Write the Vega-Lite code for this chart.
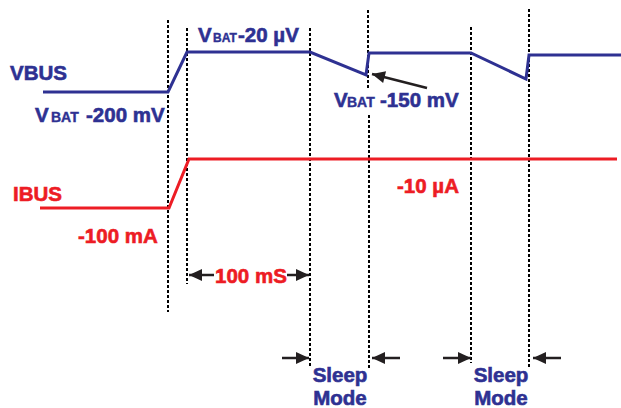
{
  "$schema": "https://vega.github.io/schema/vega-lite/v6.json",
  "width": 621,
  "height": 408,
  "autosize": {"type": "none"},
  "padding": 0,
  "background": "white",
  "config": {"view": {"stroke": null}},
  "datasets": {
    "signals": [
      {"signal": "VBUS", "i": 1, "t": 43, "v": 92},
      {"signal": "VBUS", "i": 2, "t": 168, "v": 92},
      {"signal": "VBUS", "i": 3, "t": 187, "v": 52},
      {"signal": "VBUS", "i": 4, "t": 310, "v": 52},
      {"signal": "VBUS", "i": 5, "t": 366, "v": 75},
      {"signal": "VBUS", "i": 6, "t": 369, "v": 53},
      {"signal": "VBUS", "i": 7, "t": 471, "v": 53},
      {"signal": "VBUS", "i": 8, "t": 526, "v": 79},
      {"signal": "VBUS", "i": 9, "t": 529, "v": 55},
      {"signal": "VBUS", "i": 10, "t": 621, "v": 55},
      {"signal": "IBUS", "i": 1, "t": 40, "v": 208},
      {"signal": "IBUS", "i": 2, "t": 169, "v": 208},
      {"signal": "IBUS", "i": 3, "t": 189, "v": 159},
      {"signal": "IBUS", "i": 4, "t": 617, "v": 159}
    ],
    "markers": [
      {"t": 168, "top": 20, "bottom": 312},
      {"t": 187, "top": 28, "bottom": 284},
      {"t": 310, "top": 28, "bottom": 366},
      {"t": 368, "top": 10, "bottom": 88},
      {"t": 369, "top": 115, "bottom": 368},
      {"t": 471, "top": 27, "bottom": 363},
      {"t": 529, "top": 9, "bottom": 368}
    ],
    "labels": [
      {"signal": "VBUS", "label": "VBUS", "t": 10, "v": 80},
      {"signal": "VBUS", "label": "V", "t": 35, "v": 122},
      {"signal": "VBUS", "label": "-200 mV", "t": 86, "v": 122},
      {"signal": "VBUS", "label": "V", "t": 198, "v": 42},
      {"signal": "VBUS", "label": "-20 µV", "t": 238, "v": 42},
      {"signal": "VBUS", "label": "V", "t": 334, "v": 107},
      {"signal": "VBUS", "label": "-150 mV", "t": 380, "v": 107},
      {"signal": "IBUS", "label": "IBUS", "t": 13, "v": 201},
      {"signal": "IBUS", "label": "-100 mA", "t": 78, "v": 243},
      {"signal": "IBUS", "label": "-10 µA", "t": 397, "v": 193},
      {"signal": "IBUS", "label": "100 mS", "t": 215, "v": 283}
    ],
    "subs": [
      {"signal": "VBUS", "label": "BAT", "face": "regular", "t": 51, "v": 122},
      {"signal": "VBUS", "label": "BAT", "face": "narrow", "t": 213, "v": 42},
      {"signal": "VBUS", "label": "BAT", "face": "regular", "t": 347, "v": 107}
    ],
    "centered": [
      {"signal": "VBUS", "label": "Sleep", "t": 340, "v": 382},
      {"signal": "VBUS", "label": "Mode", "t": 340, "v": 405},
      {"signal": "VBUS", "label": "Sleep", "t": 501, "v": 382},
      {"signal": "VBUS", "label": "Mode", "t": 501, "v": 405}
    ],
    "shafts": [
      {"t": 189, "v": 275, "t2": 214, "v2": 275},
      {"t": 287, "v": 275, "t2": 309, "v2": 275},
      {"t": 282, "v": 358, "t2": 309, "v2": 358},
      {"t": 372, "v": 358, "t2": 400, "v2": 358},
      {"t": 443, "v": 358, "t2": 471, "v2": 358},
      {"t": 533, "v": 358, "t2": 561, "v2": 358},
      {"t": 427, "v": 88, "t2": 372, "v2": 74}
    ],
    "heads": [
      {"t": 189, "v": 275, "dir": "left"},
      {"t": 309, "v": 275, "dir": "right"},
      {"t": 309, "v": 358, "dir": "right"},
      {"t": 372, "v": 358, "dir": "left"},
      {"t": 471, "v": 358, "dir": "right"},
      {"t": 533, "v": 358, "dir": "left"},
      {"t": 372, "v": 74, "dir": "up-left"}
    ]
  },
  "layer": [
    {
      "data": {"name": "markers"},
      "mark": {"type": "rule", "color": "black", "strokeWidth": 2, "strokeDash": [3, 2]},
      "encoding": {
        "x": {"field": "t", "type": "quantitative", "scale": {"domain": [0, 621], "nice": false, "zero": false}, "axis": null},
        "y": {"field": "top", "type": "quantitative", "scale": {"domain": [0, 408], "nice": false, "zero": false, "reverse": true}, "axis": null},
        "y2": {"field": "bottom"}
      }
    },
    {
      "data": {"name": "signals"},
      "mark": {"type": "line", "strokeWidth": 3},
      "encoding": {
        "x": {"field": "t", "type": "quantitative", "scale": {"domain": [0, 621], "nice": false, "zero": false}, "axis": null},
        "y": {"field": "v", "type": "quantitative", "scale": {"domain": [0, 408], "nice": false, "zero": false, "reverse": true}, "axis": null},
        "color": {"field": "signal", "type": "nominal", "scale": {"domain": ["VBUS", "IBUS"], "range": ["#2e3192", "#ed1c24"]}, "legend": null},
        "order": {"field": "i", "type": "quantitative"}
      }
    },
    {
      "data": {"name": "shafts"},
      "mark": {"type": "rule", "color": "#231f20", "strokeWidth": 2.5},
      "encoding": {
        "x": {"field": "t", "type": "quantitative", "scale": {"domain": [0, 621], "nice": false, "zero": false}, "axis": null},
        "y": {"field": "v", "type": "quantitative", "scale": {"domain": [0, 408], "nice": false, "zero": false, "reverse": true}, "axis": null},
        "x2": {"field": "t2"},
        "y2": {"field": "v2"}
      }
    },
    {
      "data": {"name": "heads"},
      "mark": {"type": "point", "filled": true, "shape": "M0,0L-2,-0.92L-2,0.92Z", "size": 169, "color": "#231f20", "opacity": 1, "strokeWidth": 0},
      "encoding": {
        "x": {"field": "t", "type": "quantitative", "scale": {"domain": [0, 621], "nice": false, "zero": false}, "axis": null},
        "y": {"field": "v", "type": "quantitative", "scale": {"domain": [0, 408], "nice": false, "zero": false, "reverse": true}, "axis": null},
        "angle": {"field": "dir", "type": "nominal", "scale": {"type": "ordinal", "domain": ["right", "left", "up-left"], "range": [0, 180, 194]}, "legend": null}
      }
    },
    {
      "data": {"name": "labels"},
      "mark": {"type": "text", "align": "left", "baseline": "alphabetic", "font": "Liberation Sans", "fontWeight": "bold", "fontSize": 20.5, "strokeWidth": 0.6},
      "encoding": {
        "x": {"field": "t", "type": "quantitative", "scale": {"domain": [0, 621], "nice": false, "zero": false}, "axis": null},
        "y": {"field": "v", "type": "quantitative", "scale": {"domain": [0, 408], "nice": false, "zero": false, "reverse": true}, "axis": null},
        "text": {"field": "label"},
        "color": {"field": "signal", "type": "nominal", "scale": {"domain": ["VBUS", "IBUS"], "range": ["#2e3192", "#ed1c24"]}, "legend": null},
        "stroke": {"field": "signal", "type": "nominal", "scale": {"domain": ["VBUS", "IBUS"], "range": ["#2e3192", "#ed1c24"]}, "legend": null}
      }
    },
    {
      "data": {"name": "subs"},
      "mark": {"type": "text", "align": "left", "baseline": "alphabetic", "font": "Liberation Sans", "fontWeight": "bold", "strokeWidth": 0.4},
      "encoding": {
        "x": {"field": "t", "type": "quantitative", "scale": {"domain": [0, 621], "nice": false, "zero": false}, "axis": null},
        "y": {"field": "v", "type": "quantitative", "scale": {"domain": [0, 408], "nice": false, "zero": false, "reverse": true}, "axis": null},
        "text": {"field": "label"},
        "size": {"field": "face", "type": "nominal", "scale": {"type": "ordinal", "domain": ["regular", "narrow"], "range": [14, 12]}, "legend": null},
        "color": {"field": "signal", "type": "nominal", "scale": {"domain": ["VBUS", "IBUS"], "range": ["#2e3192", "#ed1c24"]}, "legend": null},
        "stroke": {"field": "signal", "type": "nominal", "scale": {"domain": ["VBUS", "IBUS"], "range": ["#2e3192", "#ed1c24"]}, "legend": null}
      }
    },
    {
      "data": {"name": "centered"},
      "mark": {"type": "text", "align": "center", "baseline": "alphabetic", "font": "Liberation Sans", "fontWeight": "bold", "fontSize": 20.5, "strokeWidth": 0.6},
      "encoding": {
        "x": {"field": "t", "type": "quantitative", "scale": {"domain": [0, 621], "nice": false, "zero": false}, "axis": null},
        "y": {"field": "v", "type": "quantitative", "scale": {"domain": [0, 408], "nice": false, "zero": false, "reverse": true}, "axis": null},
        "text": {"field": "label"},
        "color": {"field": "signal", "type": "nominal", "scale": {"domain": ["VBUS", "IBUS"], "range": ["#2e3192", "#ed1c24"]}, "legend": null},
        "stroke": {"field": "signal", "type": "nominal", "scale": {"domain": ["VBUS", "IBUS"], "range": ["#2e3192", "#ed1c24"]}, "legend": null}
      }
    }
  ]
}
